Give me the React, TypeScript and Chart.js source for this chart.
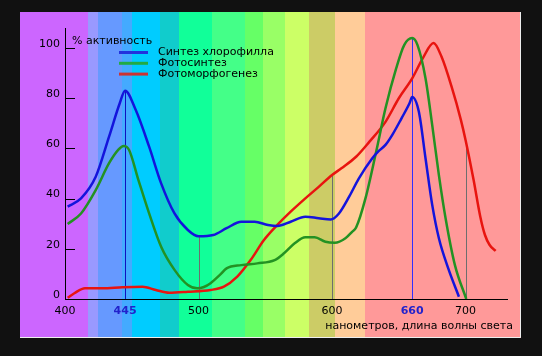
import { useEffect, useRef } from 'react';
import { Chart, registerables } from 'chart.js';

Chart.register(...registerables);

// ---- data (wavelength in nm, activity in %) ----
const wavelengthTicks = [400, 445, 500, 600, 660, 700];
const highlightedTicks = [445, 660];
const activityTicks = [0, 20, 40, 60, 80, 100];
const innerTickValues = [20, 40, 60, 80, 100];

const seriesNames = ['Синтез хлорофилла', 'Фотосинтез', 'Фотоморфогенез'];
const yAxisTitle = '% активность';
const xAxisTitle = 'нанометров, длина волны света';

const chlorophyllNm = [402, 412, 423, 433, 441, 445, 453, 463, 472, 482, 492, 500, 511, 521, 532, 542, 552, 559, 569, 580, 590, 599, 605, 613, 620, 630, 635, 640, 645, 652, 658, 660, 665, 670, 675, 680, 687, 695];
const chlorophyllVal = [36.8, 40.1, 48.7, 64.7, 78, 83, 75.3, 60.7, 46.1, 34.1, 27.5, 25, 25.5, 28.2, 30.8, 30.8, 29.5, 29.1, 30.8, 32.8, 32.2, 31.7, 34, 41, 48, 56, 59, 61.4, 65.3, 72, 78, 80.5, 74.6, 56, 37.5, 24.2, 12.2, 0.9];

const photosynthesisNm = [402, 412, 423, 433, 440, 444, 448, 455, 463, 472, 482, 492, 499, 504, 509, 516, 521, 532, 544, 557, 564, 572, 580, 587, 595, 602, 610, 615, 618, 625, 633, 640, 648, 654, 660, 664, 670, 675, 680, 685, 692, 700.5];
const photosynthesisVal = [29.9, 34.1, 43.4, 54.1, 59.5, 61, 59.4, 47.4, 34.1, 20.8, 11.6, 5.6, 4.3, 4.8, 6.3, 9.6, 12.2, 13.5, 14.2, 15.5, 18.2, 22.2, 24.6, 24.6, 22.8, 22.4, 24.2, 26.8, 28.5, 40.1, 58.7, 76, 91.9, 101.2, 104, 101.2, 87.9, 69.3, 49.4, 32.2, 13.5, 0];

const photomorphogenesisNm = [402, 407, 415, 428, 443, 458, 468, 478, 492, 509, 519, 529, 539, 549, 559, 569, 580, 590, 600, 607, 618, 628, 640, 650, 660, 668, 676, 682, 689.5, 696.5, 700, 706, 711, 714.5, 718, 722.5];
const photomorphogenesisVal = [0.5, 2.3, 4.3, 4.3, 4.7, 4.9, 3.6, 2.5, 2.9, 3.6, 4.9, 8.9, 15.5, 23.5, 29.5, 34.8, 40.1, 44.7, 49.4, 52.1, 56.7, 62.7, 70.6, 80, 87.9, 96, 102, 96.5, 84.6, 71.3, 63.3, 47.4, 32.8, 25.5, 21.5, 19.2];

// reference drop lines: wavelength and the activity they reach
const markerNm = [445, 500, 600, 660, 700];
const markerTop = [83, 25, 49.4, 104, 63];

// spectrum background band edges (nm)
const spectrumEdges = [355, 417, 425, 443, 450, 471, 485, 510, 535, 548, 565, 583, 602, 625, 750];

// ---- styles ----
const spectrumColors = ['#CC66FF', '#9999FF', '#6699FF', '#44AAFF', '#00CCFF', '#11CCCC', '#11FF99', '#44FF88', '#66FF66', '#99FF66', '#CCFF66', '#CCCC66', '#FFCC99', '#FF9999'];
const lineColors = ['#1414DC', '#239223', '#E8140F'];
const legendColors = ['#2233DD', '#22AA44', '#CC3333'];
const FONT = 'DejaVu Sans';

const toPoints = (xs: number[], ys: number[]) => xs.map((x, i) => ({ x, y: ys[i] }));

const decorPlugin = {
  id: 'decor',
  beforeDraw(chart: any) {
    const { ctx, width, height } = chart;
    const xs = chart.scales.x;
    const L = 20, T = 12, R = 521, B = 338;
    ctx.save();
    ctx.fillStyle = '#111111';
    ctx.fillRect(0, 0, width, height);
    ctx.beginPath();
    ctx.rect(L, T, R - L, B - T);
    ctx.clip();
    for (let i = 0; i < spectrumColors.length; i++) {
      const a = Math.round(xs.getPixelForValue(spectrumEdges[i]));
      const b = Math.round(xs.getPixelForValue(spectrumEdges[i + 1]));
      ctx.fillStyle = spectrumColors[i];
      ctx.fillRect(a, T, b - a, B - T);
    }
    ctx.restore();
    ctx.save();
    ctx.strokeStyle = '#EEEEEE';
    ctx.lineWidth = 1;
    ctx.beginPath();
    ctx.moveTo(R - 0.5, T);
    ctx.lineTo(R - 0.5, B - 0.5);
    ctx.lineTo(L, B - 0.5);
    ctx.stroke();
    ctx.restore();
  },
  beforeDatasetsDraw(chart: any) {
    const { ctx } = chart;
    const xs = chart.scales.x;
    const ys = chart.scales.y;
    ctx.save();
    ctx.lineWidth = 1;
    markerNm.forEach((nm, i) => {
      const px = Math.round(xs.getPixelForValue(nm)) + 0.5;
      ctx.strokeStyle = highlightedTicks.includes(nm) ? (nm < 500 ? '#1010C0' : '#3030FF') : '#6E6E6E';
      ctx.beginPath();
      ctx.moveTo(px, ys.getPixelForValue(0));
      ctx.lineTo(px, ys.getPixelForValue(markerTop[i]));
      ctx.stroke();
    });
    ctx.strokeStyle = '#000000';
    const left = chart.chartArea.left;
    innerTickValues.forEach((v) => {
      const py = Math.round(ys.getPixelForValue(v)) + 0.5;
      ctx.beginPath();
      ctx.moveTo(left, py);
      ctx.lineTo(left + 10, py);
      ctx.stroke();
    });
    ctx.restore();
  },
  afterDraw(chart: any) {
    const { ctx } = chart;
    ctx.save();
    ctx.font = `11px "${FONT}"`;
    ctx.fillStyle = '#000000';
    ctx.textBaseline = 'middle';
    ctx.textAlign = 'left';
    ctx.fillText(yAxisTitle, 72, 41);
    seriesNames.forEach((name, i) => {
      const y = 52.5 + i * 10.8;
      ctx.strokeStyle = legendColors[i];
      ctx.lineWidth = 3;
      ctx.beginPath();
      ctx.moveTo(119, y);
      ctx.lineTo(148, y);
      ctx.stroke();
      ctx.fillStyle = '#000000';
      ctx.fillText(name, 158, y);
    });
    ctx.textAlign = 'right';
    ctx.fillText(xAxisTitle, 513, 326);
    ctx.restore();
  },
};

export default function App() {
  const canvasRef = useRef<HTMLCanvasElement | null>(null);

  useEffect(() => {
    if (!canvasRef.current) return;
    Chart.defaults.font.family = FONT;
    Chart.defaults.color = '#000000';
    const chart = new Chart(canvasRef.current, {
      type: 'line',
      data: {
        datasets: [
          { label: seriesNames[0], data: toPoints(chlorophyllNm, chlorophyllVal), borderColor: lineColors[0] },
          { label: seriesNames[1], data: toPoints(photosynthesisNm, photosynthesisVal), borderColor: lineColors[1] },
          { label: seriesNames[2], data: toPoints(photomorphogenesisNm, photomorphogenesisVal), borderColor: lineColors[2] },
        ].map((d) => ({ ...d, borderWidth: 2.5, pointRadius: 0, fill: false, cubicInterpolationMode: 'monotone' as const })),
      },
      options: {
        responsive: false,
        animation: false,
        devicePixelRatio: 1,
        layout: { padding: { top: 28, right: 35, bottom: 0, left: 0 } },
        plugins: { legend: { display: false }, tooltip: { enabled: false } },
        scales: {
          x: {
            type: 'linear',
            min: 400,
            max: 731,
            border: { display: true, color: '#000000', width: 1 },
            grid: { display: false, drawTicks: false },
            afterBuildTicks: (s: any) => { s.ticks = wavelengthTicks.map((v) => ({ value: v })); },
            afterFit: (s: any) => { s.height = 57; },
            ticks: {
              autoSkip: false,
              maxRotation: 0,
              padding: 6,
              callback: (v: any) => String(v),
              color: (c: any) => (c.tick && highlightedTicks.includes(c.tick.value) ? '#2222CC' : '#000000'),
              font: (c: any) => (c.tick && highlightedTicks.includes(c.tick.value)
                ? { family: FONT, size: 11, weight: 'bold' as const }
                : { family: FONT, size: 11 }),
            },
          },
          y: {
            type: 'linear',
            min: 0,
            max: 108,
            border: { display: true, color: '#000000', width: 1 },
            grid: { display: false, drawTicks: false },
            afterBuildTicks: (s: any) => { s.ticks = activityTicks.map((v) => ({ value: v })); },
            afterFit: (s: any) => { s.width = 65; },
            ticks: { padding: 5, labelOffset: -4, color: '#000000', font: { family: FONT, size: 11 } },
          },
        },
      },
      plugins: [decorPlugin],
    });
    return () => chart.destroy();
  }, []);

  return (
    <div style={{ position: 'fixed', left: 0, top: 0, width: 542, height: 356 }}>
      <canvas ref={canvasRef} width={542} height={356} style={{ display: 'block' }} />
    </div>
  );
}
